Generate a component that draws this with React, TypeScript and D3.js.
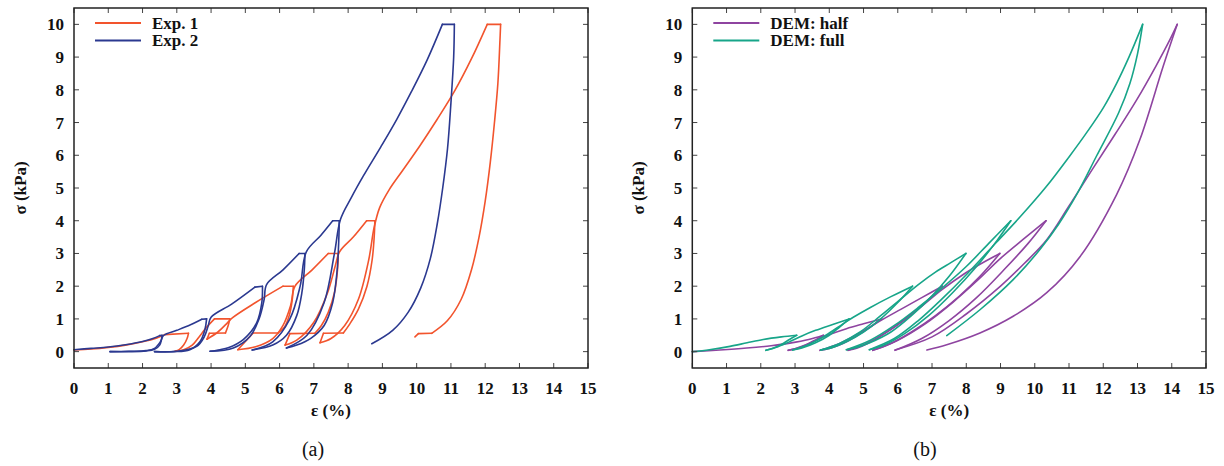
import React from "react";
import * as d3 from "d3";

type Pt = [number, number];

const xTickValues = [0, 1, 2, 3, 4, 5, 6, 7, 8, 9, 10, 11, 12, 13, 14, 15];
const yTickValues = [0, 1, 2, 3, 4, 5, 6, 7, 8, 9, 10];

const panelALegend = ["Exp. 1", "Exp. 2"];
const panelBLegend = ["DEM: half", "DEM: full"];
const panelColorsA = ["#f2542d", "#2b3990"];
const panelColorsB = ["#8e44a0", "#17a589"];

// Exp. 1 (strain %, stress kPa) – segments of the loading history
const exp1: Pt[][] = [
  [[0, 0.05], [0.5, 0.08], [1, 0.13], [1.5, 0.2], [2, 0.3], [2.4, 0.41], [2.65, 0.52]],
  [[2.65, 0.52], [3.34, 0.56]],
  [[3.34, 0.56], [3.3, 0.4], [3.2, 0.2], [3.07, 0.06], [2.95, 0.01]],
  [[2.95, 0.01], [3.2, 0.06], [3.45, 0.2], [3.65, 0.45], [3.85, 0.72], [4.1, 1.0]],
  [[4.1, 1.0], [4.55, 1.0]],
  [[4.55, 1.0], [4.5, 0.8], [4.42, 0.57]],
  [[4.42, 0.57], [3.95, 0.56]],
  [[3.95, 0.56], [3.88, 0.38]],
  [[3.88, 0.38], [4.2, 0.6], [4.45, 0.85], [4.62, 1.03], [5.3, 1.5], [6.1, 2.0]],
  [[6.1, 2.0], [6.4, 2.0]],
  [[6.4, 2.0], [6.37, 1.6], [6.28, 1.1], [6.14, 0.75], [5.96, 0.57]],
  [[5.96, 0.57], [5.23, 0.57]],
  [[5.23, 0.57], [4.78, 0.06]],
  [[4.78, 0.06], [5.3, 0.15], [5.8, 0.4], [6.1, 0.8], [6.32, 1.4], [6.45, 2.0], [6.95, 2.5], [7.42, 3.0]],
  [[7.42, 3.0], [7.71, 3.0]],
  [[7.71, 3.0], [7.69, 2.5], [7.6, 1.8], [7.42, 1.2], [7.22, 0.8], [7.03, 0.56]],
  [[7.03, 0.56], [6.3, 0.55]],
  [[6.3, 0.55], [6.16, 0.2]],
  [[6.16, 0.2], [6.5, 0.35], [7.0, 0.9], [7.4, 1.8], [7.62, 2.6], [7.75, 3.05], [8.15, 3.5], [8.54, 4.0]],
  [[8.54, 4.0], [8.78, 4.0]],
  [[8.78, 4.0], [8.76, 3.5], [8.7, 2.8], [8.55, 2.0], [8.3, 1.3], [8.05, 0.85], [7.86, 0.57]],
  [[7.86, 0.57], [7.28, 0.56]],
  [[7.28, 0.56], [7.18, 0.27]],
  [[7.18, 0.27], [7.5, 0.4], [7.9, 0.8], [8.3, 1.6], [8.6, 2.8], [8.76, 3.8], [8.92, 4.4], [9.2, 4.95], [9.6, 5.55], [10.1, 6.3], [10.6, 7.1], [11.1, 7.95], [11.6, 8.95], [12.06, 10.0]],
  [[12.06, 10.0], [12.45, 10.0]],
  [[12.45, 10.0], [12.43, 9.5], [12.37, 8.2], [12.27, 7.0], [12.15, 5.8], [12.0, 4.6], [11.82, 3.5], [11.6, 2.5], [11.3, 1.6], [10.9, 0.95], [10.44, 0.56]],
  [[10.44, 0.56], [10.05, 0.55]],
  [[10.05, 0.55], [9.95, 0.45]],
];

// Exp. 2
const exp2: Pt[][] = [
  [[0, 0.06], [0.5, 0.1], [1, 0.14], [1.5, 0.21], [2, 0.31], [2.3, 0.4], [2.5, 0.49]],
  [[2.5, 0.49], [2.57, 0.5]],
  [[2.57, 0.5], [2.55, 0.35], [2.5, 0.2], [2.35, 0.07], [2.1, 0.02], [1.6, 0.0], [1.05, 0.0]],
  [[1.05, 0.0], [1.6, 0.01], [2.1, 0.03], [2.35, 0.1], [2.52, 0.3], [2.62, 0.5], [3.0, 0.65], [3.4, 0.82], [3.73, 0.99]],
  [[3.73, 0.99], [3.87, 1.0]],
  [[3.87, 1.0], [3.82, 0.67], [3.68, 0.31], [3.38, 0.06], [2.9, 0.0], [2.35, 0.0]],
  [[2.35, 0.0], [3.0, 0.01], [3.58, 0.16], [3.8, 0.45], [3.92, 0.8], [4.0, 1.05], [4.6, 1.45], [5.28, 1.97]],
  [[5.28, 1.97], [5.5, 2.0]],
  [[5.5, 2.0], [5.48, 1.49], [5.33, 0.88], [4.94, 0.37], [4.5, 0.12], [4.26, 0.06], [3.97, 0.01]],
  [[3.97, 0.01], [4.65, 0.11], [5.14, 0.47], [5.4, 1.0], [5.55, 1.6], [5.62, 2.05], [6.1, 2.5], [6.57, 3.0]],
  [[6.57, 3.0], [6.74, 3.0]],
  [[6.74, 3.0], [6.72, 2.5], [6.65, 1.8], [6.5, 1.1], [6.2, 0.5], [5.8, 0.2], [5.2, 0.05]],
  [[5.2, 0.05], [5.8, 0.3], [6.3, 1.0], [6.6, 2.0], [6.78, 3.05], [7.2, 3.55], [7.55, 4.0]],
  [[7.55, 4.0], [7.74, 4.0]],
  [[7.74, 4.0], [7.73, 3.5], [7.68, 2.5], [7.55, 1.5], [7.3, 0.8], [6.9, 0.4], [6.5, 0.2], [6.2, 0.11]],
  [[6.2, 0.11], [6.8, 0.5], [7.3, 1.5], [7.6, 3.0], [7.78, 4.05], [8.1, 4.72], [8.44, 5.36], [8.95, 6.25], [9.42, 7.1], [9.85, 7.95], [10.3, 8.9], [10.75, 10.0]],
  [[10.75, 10.0], [11.1, 10.0]],
  [[11.1, 10.0], [11.08, 9.0], [11.0, 7.6], [10.9, 6.2], [10.76, 5.0], [10.6, 3.9], [10.4, 2.85], [10.12, 1.95], [9.75, 1.2], [9.3, 0.65], [8.69, 0.24]],
];

// DEM: half
const demHalf: Pt[][] = [
  [[0, 0], [0.8, 0.05], [1.59, 0.11], [2.3, 0.18], [2.85, 0.26], [3.4, 0.37], [3.83, 0.5]],
  [[3.83, 0.5], [3.6, 0.36], [3.3, 0.2], [3.0, 0.09], [2.8, 0.04]],
  [[2.8, 0.04], [3.2, 0.15], [3.6, 0.34], [3.95, 0.5], [4.5, 0.7], [5.0, 0.85], [5.53, 1.0]],
  [[5.53, 1.0], [5.2, 0.75], [4.8, 0.48], [4.4, 0.25], [4.0, 0.1], [3.73, 0.04]],
  [[3.73, 0.04], [4.3, 0.25], [4.9, 0.58], [5.5, 0.95], [6.1, 1.3], [6.7, 1.65], [7.3, 2.0]],
  [[7.3, 2.0], [6.8, 1.5], [6.2, 0.98], [5.6, 0.55], [5.1, 0.24], [4.8, 0.1], [4.55, 0.04]],
  [[4.55, 0.04], [5.2, 0.3], [5.9, 0.75], [6.6, 1.3], [7.3, 1.9], [7.9, 2.35], [8.4, 2.67], [8.98, 3.0]],
  [[8.98, 3.0], [8.4, 2.3], [7.8, 1.7], [7.1, 1.1], [6.4, 0.6], [5.8, 0.25], [5.27, 0.04]],
  [[5.27, 0.04], [6.0, 0.35], [6.8, 0.85], [7.6, 1.5], [8.3, 2.15], [9.0, 2.85], [9.65, 3.42], [10.33, 4.0]],
  [[10.33, 4.0], [9.8, 3.3], [9.1, 2.5], [8.3, 1.65], [7.5, 0.95], [6.7, 0.4], [5.92, 0.04]],
  [[5.92, 0.05], [7.0, 0.45], [8.0, 1.15], [9.0, 2.0], [9.7, 2.7], [10.35, 3.42], [11.0, 4.45], [11.7, 5.6], [12.35, 6.65], [12.98, 7.7], [13.55, 8.75], [13.95, 9.54], [14.16, 10.0]],
  [[14.16, 10.0], [13.75, 8.72], [13.07, 6.48], [12.39, 4.8], [11.32, 2.9], [10.35, 1.8], [9.37, 1.08], [8.4, 0.57], [7.43, 0.21], [6.85, 0.05]],
];

// DEM: full
const demFull: Pt[][] = [
  [[0, 0], [0.5, 0.06], [1.1, 0.16], [1.6, 0.27], [2.07, 0.37], [2.6, 0.45], [3.05, 0.5]],
  [[3.05, 0.5], [2.85, 0.38], [2.6, 0.22], [2.35, 0.1], [2.15, 0.04]],
  [[2.15, 0.04], [2.5, 0.15], [2.9, 0.33], [3.2, 0.48], [3.6, 0.65], [4.1, 0.83], [4.58, 1.0]],
  [[4.58, 1.0], [4.3, 0.75], [4.0, 0.5], [3.6, 0.27], [3.2, 0.11], [2.93, 0.05]],
  [[2.93, 0.05], [3.4, 0.22], [3.9, 0.5], [4.4, 0.85], [4.7, 1.05], [5.2, 1.35], [5.8, 1.68], [6.43, 2.0]],
  [[6.43, 2.0], [6.0, 1.5], [5.5, 1.0], [5.0, 0.6], [4.5, 0.3], [4.1, 0.13], [3.75, 0.05]],
  [[3.75, 0.05], [4.3, 0.25], [4.9, 0.6], [5.5, 1.1], [6.1, 1.62], [6.6, 2.05], [7.1, 2.43], [7.55, 2.72], [7.99, 3.0]],
  [[7.99, 3.0], [7.5, 2.3], [7.0, 1.7], [6.4, 1.1], [5.8, 0.6], [5.2, 0.28], [4.8, 0.13], [4.5, 0.06]],
  [[4.5, 0.06], [5.2, 0.35], [5.9, 0.8], [6.6, 1.35], [7.3, 1.95], [8.0, 2.6], [8.65, 3.3], [9.3, 4.0]],
  [[9.3, 4.0], [8.9, 3.4], [8.3, 2.6], [7.6, 1.8], [6.9, 1.1], [6.2, 0.55], [5.6, 0.2], [5.17, 0.06]],
  [[5.17, 0.06], [5.9, 0.4], [6.6, 0.95], [7.3, 1.62], [8.0, 2.35], [8.89, 3.35], [9.6, 4.15], [10.35, 5.06], [11.0, 5.95], [11.52, 6.7], [12.0, 7.45], [12.39, 8.2], [12.75, 9.0], [13.15, 10.0]],
  [[13.15, 10.0], [13.0, 9.1], [12.78, 8.2], [12.45, 7.3], [11.8, 5.97], [11.25, 4.85], [10.7, 3.9], [10.15, 3.12], [9.37, 2.2], [8.4, 1.28], [7.43, 0.49]],
];

const FONT = "Liberation Serif, Times New Roman, serif";

type PanelProps = {
  left: number;
  right: number;
  top: number;
  bottom: number;
  series: Pt[][][];
  colors: string[];
  legend: string[];
  caption: string;
  captionX: number;
};

function Panel({ left, right, top, bottom, series, colors, legend, caption, captionX }: PanelProps) {
  const x = d3.scaleLinear().domain([0, 15]).range([left, right]);
  const y = d3.scaleLinear().domain([-0.5, 10.5]).range([bottom, top]);
  const line = d3
    .line<Pt>()
    .x((d) => x(d[0]))
    .y((d) => y(d[1]))
    .curve(d3.curveCatmullRom.alpha(0.5));
  const tl = 5;
  const cx = (left + right) / 2;
  const cy = (top + bottom) / 2;
  return (
    <g>
      {series.map((segs, si) => (
        <g key={si}>
          {segs.map((seg, k) => (
            <path
              key={k}
              d={line(seg) || ""}
              fill="none"
              stroke={colors[si]}
              strokeWidth={1.6}
              strokeLinejoin="round"
              strokeLinecap="round"
            />
          ))}
        </g>
      ))}
      {xTickValues.map((v) => (
        <g key={"x" + v}>
          <line x1={x(v)} x2={x(v)} y1={bottom} y2={bottom - tl} stroke="#444" strokeWidth={1} />
          <line x1={x(v)} x2={x(v)} y1={top} y2={top + tl} stroke="#444" strokeWidth={1} />
          <text
            x={x(v)}
            y={bottom + 26}
            textAnchor="middle"
            fontFamily={FONT}
            fontWeight="bold"
            fontSize={17}
            fill="#111"
          >
            {v}
          </text>
        </g>
      ))}
      {yTickValues.map((v) => (
        <g key={"y" + v}>
          <line x1={left} x2={left + tl} y1={y(v)} y2={y(v)} stroke="#444" strokeWidth={1} />
          <line x1={right} x2={right - tl} y1={y(v)} y2={y(v)} stroke="#444" strokeWidth={1} />
          <text
            x={left - 10}
            y={y(v) + 6}
            textAnchor="end"
            fontFamily={FONT}
            fontWeight="bold"
            fontSize={17}
            fill="#111"
          >
            {v}
          </text>
        </g>
      ))}
      <rect
        x={left}
        y={top}
        width={right - left}
        height={bottom - top}
        fill="none"
        stroke="#222"
        strokeWidth={1.5}
      />
      <text
        x={cx}
        y={bottom + 48}
        textAnchor="middle"
        fontFamily={FONT}
        fontWeight="bold"
        fontSize={17}
        fill="#111"
      >
        ε (%)
      </text>
      <text
        transform={`translate(${left - 48},${cy}) rotate(-90)`}
        textAnchor="middle"
        fontFamily={FONT}
        fontWeight="bold"
        fontSize={17}
        fill="#111"
      >
        σ (kPa)
      </text>
      <text x={captionX} y={bottom + 88} textAnchor="middle" fontFamily={FONT} fontSize={20} fill="#111">
        {caption}
      </text>
      {legend.map((name, i) => (
        <g key={name}>
          <line
            x1={left + 21}
            x2={left + 67}
            y1={top + 15 + i * 17.5}
            y2={top + 15 + i * 17.5}
            stroke={colors[i]}
            strokeWidth={2}
          />
          <text
            x={left + 78}
            y={top + 20.5 + i * 17.5}
            fontFamily={FONT}
            fontWeight="bold"
            fontSize={17}
            fill="#111"
          >
            {name}
          </text>
        </g>
      ))}
    </g>
  );
}

export default function App() {
  return (
    <svg
      width={1224}
      height={466}
      style={{ position: "absolute", left: 0, top: 0, background: "#fff" }}
    >
      <rect x={0} y={0} width={1224} height={466} fill="#fff" />
      <Panel
        left={74}
        right={588}
        top={8}
        bottom={368}
        series={[exp1, exp2]}
        colors={panelColorsA}
        legend={panelALegend}
        caption="(a)"
        captionX={313}
      />
      <Panel
        left={692.3}
        right={1206}
        top={8}
        bottom={368}
        series={[demHalf, demFull]}
        colors={panelColorsB}
        legend={panelBLegend}
        caption="(b)"
        captionX={925}
      />
    </svg>
  );
}
